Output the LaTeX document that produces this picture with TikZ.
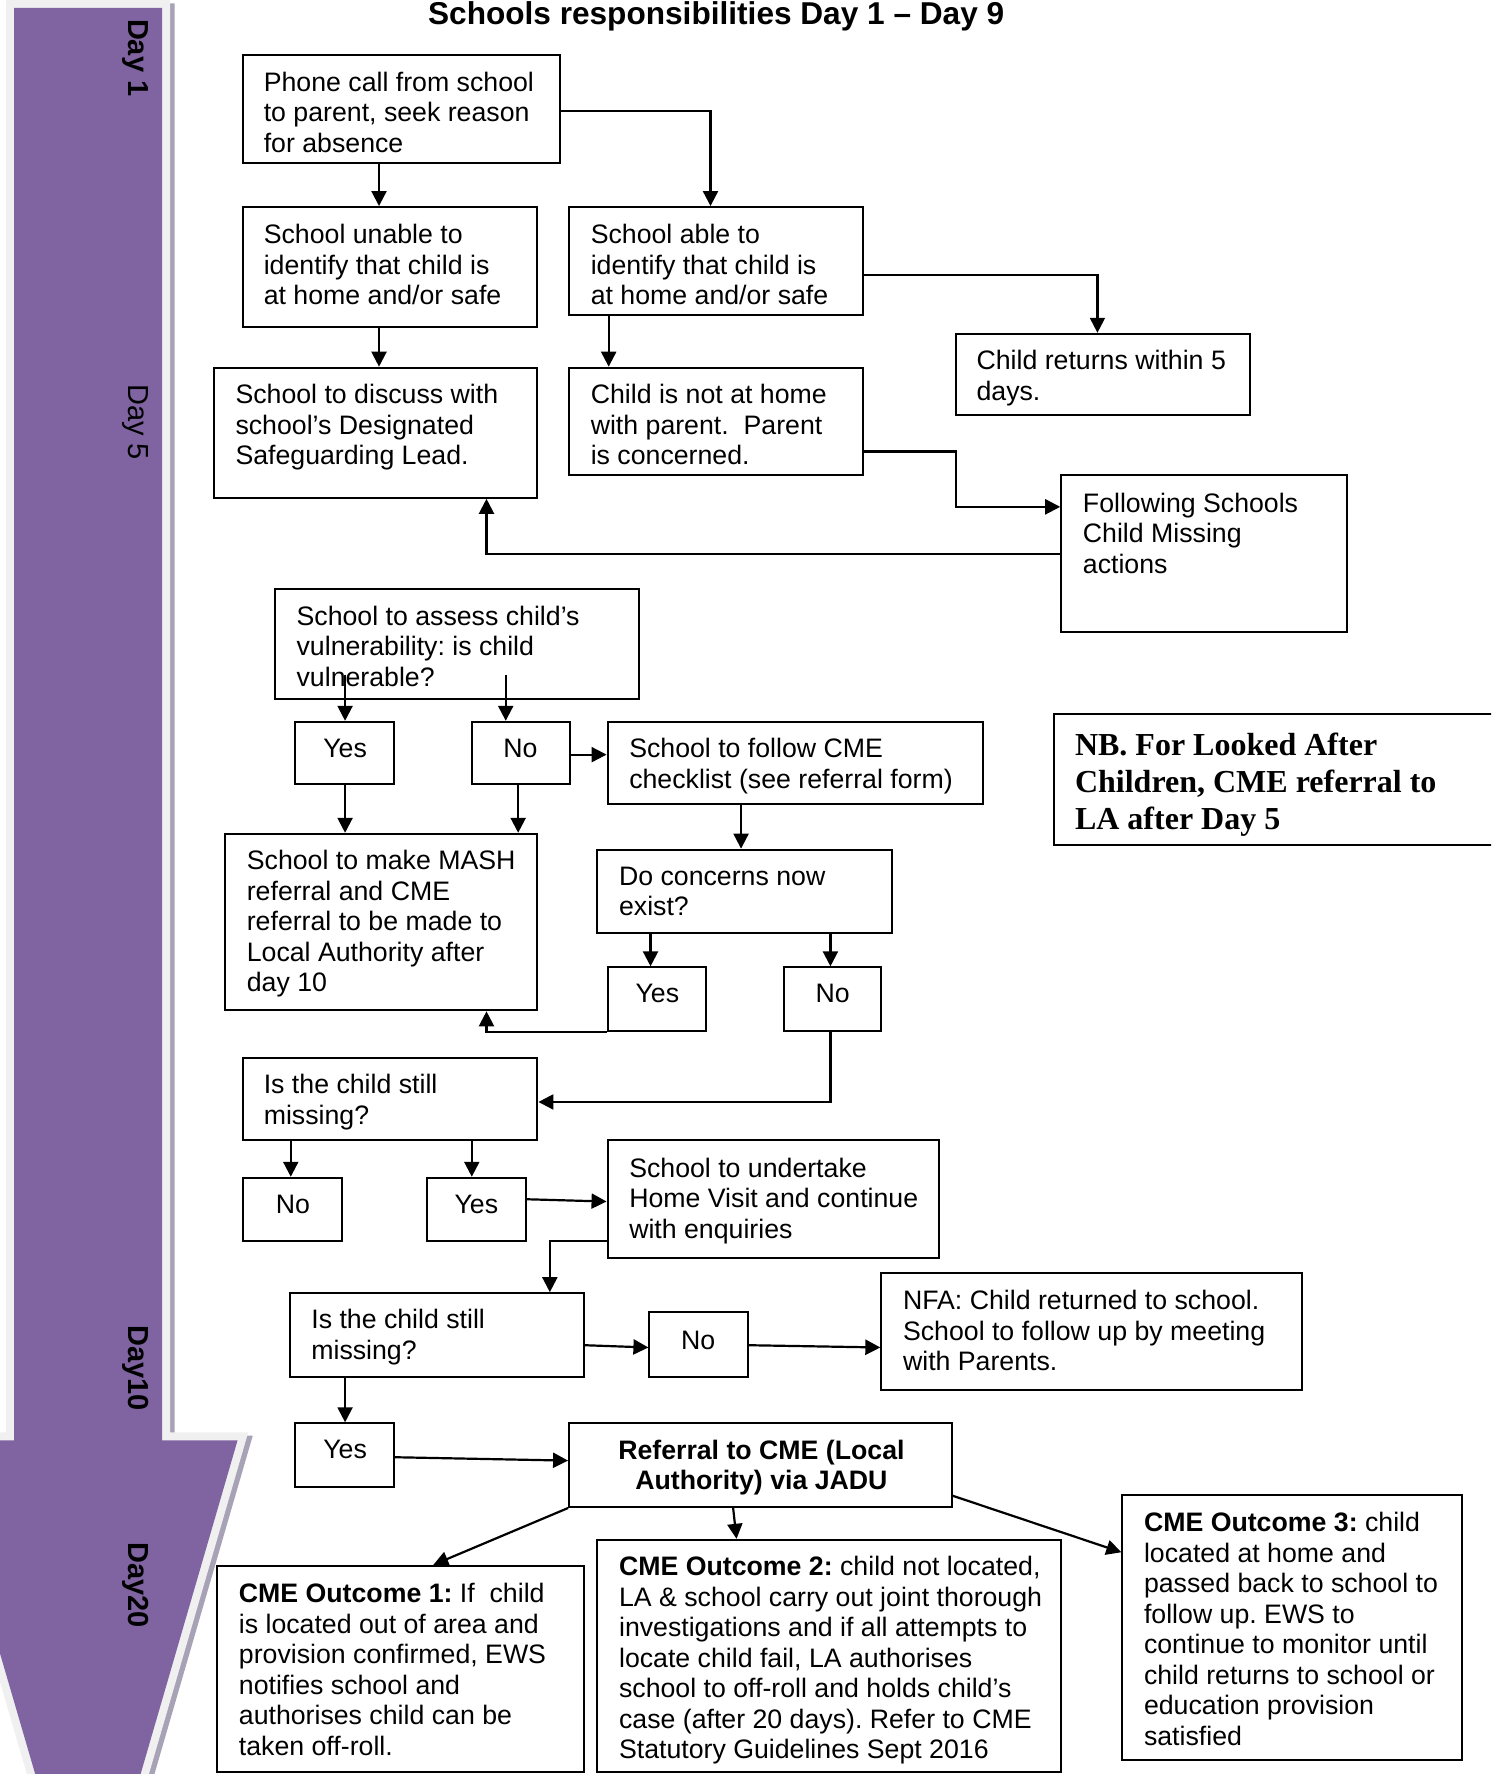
\documentclass[tikz,border=0pt]{standalone}
\usepackage{fontspec}
\setmainfont{Liberation Sans}
\newfontfamily\timesf{Liberation Serif}
\usetikzlibrary{arrows.meta,fit}
\definecolor{arrowpurple}{HTML}{8064A2}
\definecolor{glowgrey}{HTML}{F0F0F0}
\definecolor{shadowgrey}{HTML}{A8A2B6}
\newcommand\bodyfont{\fontsize{26.7}{30.5}\selectfont}
\frenchspacing
\begin{document}
\begin{tikzpicture}[x=1.1313pt,y=-1.1313pt,
  bx/.style={draw=black, line width=2pt, inner sep=0pt, fit={#1}},
  txt/.style={anchor=north west, inner sep=0pt, align=left, font=\bodyfont},
  word/.style={anchor=base, inner sep=0pt, font=\bodyfont},
  daylab/.style={rotate=-90, inner sep=0pt, font=\fontsize{29}{34}\selectfont},
  arr/.style={line width=2.2pt, -{Triangle[length=15pt,width=15pt]}},
  bigarrow/.style={line join=miter}]
\useasboundingbox (0,0) rectangle (1318,1568);
\clip (0,0) rectangle (1318,1568);

% --- timeline arrow ---
\path[draw=shadowgrey, fill=shadowgrey, line width=16pt, bigarrow, shift={(4,3)}]
  (12.4,7) -- (143.2,7) -- (143.2,1273) -- (210,1273) -- (77.8,1728) -- (-55,1273) -- (12.4,1273) -- cycle;
\path[draw=glowgrey, line width=16pt, bigarrow]
  (12.4,7) -- (143.2,7) -- (143.2,1273) -- (210,1273) -- (77.8,1728) -- (-55,1273) -- (12.4,1273) -- cycle;
\path[fill=arrowpurple]
  (12.4,7) -- (143.2,7) -- (143.2,1273) -- (210,1273) -- (77.8,1728) -- (-55,1273) -- (12.4,1273) -- cycle;

\node[daylab, font=\fontsize{29}{34}\selectfont\bfseries] (d1) at (120,51) {Day 1};
\node[daylab] (d5) at (120,373) {Day 5};
\node[daylab, font=\fontsize{29}{34}\selectfont\bfseries] (d10) at (120,1209) {Day10};
\node[daylab, font=\fontsize{29}{34}\selectfont\bfseries] (d20) at (120,1401) {Day20};

% --- title ---
\node[anchor=base, inner sep=0pt, font=\fontsize{31.6}{36}\selectfont\bfseries] (title) at (633,22) {Schools responsibilities Day 1 -- Day 9};

% --- boxes ---
\node[bx={(215,49) (495,144)}] (phone) {};
\node[bx={(215,183) (475,289)}] (unable) {};
\node[bx={(503,183) (763,278)}] (able) {};
\node[bx={(845,295) (1105,367)}] (returns) {};
\node[bx={(189,325) (475,440)}] (discuss) {};
\node[bx={(503,325) (763,420)}] (nah) {};
\node[bx={(938,420) (1191,559)}] (following) {};
\node[bx={(243,521) (565,618)}] (assess) {};
\node[bx={(261,638) (348,693)}] (yes1) {};
\node[bx={(417,638) (504,693)}] (no1) {};
\node[bx={(537,638) (869,711)}] (cme) {};
\node[bx={(932,631) (1340,747)}] (nb) {};
\node[bx={(199,737) (475,893)}] (mash) {};
\node[bx={(528,751) (788,825)}] (concerns) {};
\node[bx={(537,855) (624,911)}] (yes2) {};
\node[bx={(693,855) (779,911)}] (no2) {};
\node[bx={(215,935) (475,1008)}] (miss1) {};
\node[bx={(215,1041) (302,1097)}] (no3) {};
\node[bx={(377,1041) (465,1097)}] (yes3) {};
\node[bx={(537,1008) (830,1112)}] (home) {};
\node[bx={(256,1143) (516,1217)}] (miss2) {};
\node[bx={(574,1160) (661,1217)}] (no4) {};
\node[bx={(779,1125) (1151,1229)}] (nfa) {};
\node[bx={(261,1258) (348,1314)}] (yes4) {};
\node[bx={(503,1258) (841,1332)}] (ref) {};
\node[bx={(192,1384) (516,1566)}] (out1) {};
\node[bx={(528,1361) (938,1566)}] (out2) {};
\node[bx={(992,1321) (1292,1556)}] (out3) {};

% --- texts ---
\node[txt] (phone-t) at (233,61.6) {\strut Phone call from school\\to parent, seek reason\\for absence};
\node[txt] (unable-t) at (233,196.6) {\strut School unable to\\identify that child is\\at home and/or safe};
\node[txt] (able-t) at (522,196.6) {\strut School able to\\identify that child is\\at home and/or safe};
\node[txt] (returns-t) at (863,307.6) {\strut Child returns within 5\\days.};
\node[txt] (discuss-t) at (208,337.6) {\strut School to discuss with\\school’s Designated\\Safeguarding Lead.};
\node[txt] (nah-t) at (522,337.6) {\strut Child is not at home\\with parent.\ \ Parent\\is concerned.};
\node[txt] (following-t) at (957,433.6) {\strut Following Schools\\Child Missing\\actions};
\node[txt] (assess-t) at (262,533.6) {\strut School to assess child’s\\vulnerability: is child\\vulnerable?};
\node[word] (yes1-t) at (305,669.5) {Yes};
\node[word] (no1-t) at (460,669.5) {No};
\node[txt] (cme-t) at (556,650.6) {\strut School to follow CME\\checklist (see referral form)};
\node[txt, font=\fontsize{32}{37}\selectfont\timesf\bfseries] (nb-t) at (950,644.5) {\strut NB. For Looked After\\Children, CME referral to\\LA after Day 5};
\node[txt] (mash-t) at (218,749.6) {\strut School to make MASH\\referral and CME\\referral to be made to\\Local Authority after\\day 10};
\node[txt] (concerns-t) at (547,763.6) {\strut Do concerns now\\exist?};
\node[word] (yes2-t) at (581,886.5) {Yes};
\node[word] (no2-t) at (736,886.5) {No};
\node[txt] (miss1-t) at (233,947.6) {\strut Is the child still\\missing?};
\node[word] (no3-t) at (259,1072.5) {No};
\node[word] (yes3-t) at (421,1072.5) {Yes};
\node[txt] (home-t) at (556,1021.6) {\strut School to undertake\\Home Visit and continue\\with enquiries};
\node[txt] (miss2-t) at (275,1155.6) {\strut Is the child still\\missing?};
\node[word] (no4-t) at (617,1192.5) {No};
\node[txt] (nfa-t) at (798,1138.6) {\strut NFA: Child returned to school.\\School to follow up by meeting\\with Parents.};
\node[word] (yes4-t) at (305,1289.5) {Yes};
\node[anchor=north, inner sep=0pt, align=center, font=\bodyfont\bfseries] (ref-t) at (673,1270.6) {\strut Referral to CME (Local\\Authority) via JADU};
\node[txt] (out1-t) at (211,1397.6) {\strut\textbf{CME Outcome 1:} If\ \ child\\is located out of area and\\provision confirmed, EWS\\notifies school and\\authorises child can be\\taken off-roll.};
\node[txt] (out2-t) at (547,1373.6) {\strut\textbf{CME Outcome 2:} child not located,\\LA \& school carry out joint thorough\\investigations and if all attempts to\\locate child fail, LA authorises\\school to off-roll and holds child’s\\case (after 20 days). Refer to CME\\Statutory Guidelines Sept 2016};
\node[txt] (out3-t) at (1011,1334.6) {\strut\textbf{CME Outcome 3:} child\\located at home and\\passed back to school to\\follow up. EWS to\\continue to monitor until\\child returns to school or\\education provision\\satisfied};

% --- helper coordinates ---
\foreach \v in {257,305,335,383,417,430,447,458,486,538,575,628,648,651,655,734,845,970}
  \coordinate (x\v) at (\v,0);
\foreach \v in {98,243,399,448,490,597,667,974,1060,1062,1097,1189,1191,1288,1291,1322,1372}
  \coordinate (y\v) at (0,\v);

% --- connectors ---
\draw[arr] (phone.south -| x335) -- (unable.north -| x335);
\draw[arr] (phone.east |- y98) -| (able.north -| x628);
\draw[arr] (unable.south -| x335) -- (discuss.north -| x335);
\draw[arr] (able.south -| x538) -- (nah.north -| x538);
\draw[arr] (able.east |- y243) -| (returns.north -| x970);
\draw[arr] (nah.east |- y399) -| (x845 |- y448) -- (following.west |- y448);
\draw[arr] (following.west |- y490) -| (discuss.south -| x430);
\draw[arr] (x305 |- y597) -- (yes1.north -| x305);
\draw[arr] (x447 |- y597) -- (no1.north -| x447);
\draw[arr] (no1.east |- y667) -- (cme.west |- y667);
\draw[arr] (yes1.south -| x305) -- (mash.north -| x305);
\draw[arr] (no1.south -| x458) -- (mash.north -| x458);
\draw[arr] (cme.south -| x655) -- (concerns.north -| x655);
\draw[arr] (concerns.south -| x575) -- (yes2.north -| x575);
\draw[arr] (concerns.south -| x734) -- (no2.north -| x734);
\draw[arr] (yes2.south west) -| (mash.south -| x430);
\draw[arr] (no2.south -| x734) |- (miss1.east |- y974);
\draw[arr] (miss1.south -| x257) -- (no3.north -| x257);
\draw[arr] (miss1.south -| x417) -- (yes3.north -| x417);
\draw[arr] (yes3.east |- y1060) -- (home.west |- y1062);
\draw[arr] (home.west |- y1097) -| (miss2.north -| x486);
\draw[arr] (miss2.east |- y1189) -- (no4.west |- y1191);
\draw[arr] (no4.east |- y1189) -- (nfa.west |- y1191);
\draw[arr] (miss2.south -| x305) -- (yes4.north -| x305);
\draw[arr] (yes4.east |- y1288) -- (ref.west |- y1291);
\draw[arr] (ref.south west) -- (out1.north -| x383);
\draw[arr] (ref.south -| x648) -- (out2.north -| x651);
\draw[arr] (ref.east |- y1322) -- (out3.west |- y1372);
\end{tikzpicture}
\end{document}
